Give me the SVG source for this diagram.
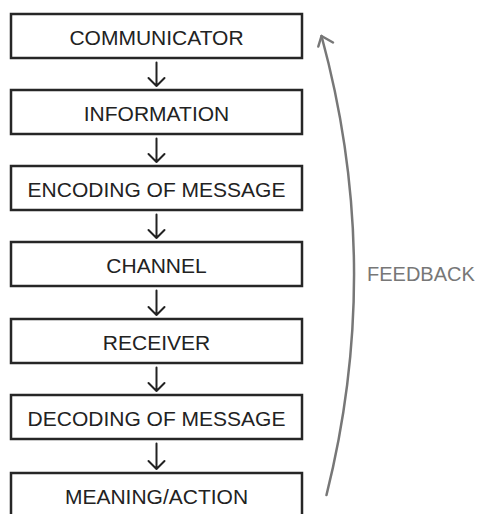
<svg xmlns="http://www.w3.org/2000/svg" width="478" height="514" viewBox="0 0 478 514">
  <style>
    .box { fill: #ffffff; stroke: #262626; stroke-width: 2.5; }
    .label { font-family: "Liberation Sans", Arial, sans-serif; font-size: 21px; fill: #222222; text-anchor: middle; }
    .flow { stroke: #222222; stroke-width: 2; fill: none; stroke-linecap: round; stroke-linejoin: round; }
    .feedback { stroke: #777777; stroke-width: 2.5; fill: none; stroke-linecap: round; stroke-linejoin: round; }
    .fb-label { font-family: "Liberation Sans", Arial, sans-serif; font-size: 20px; fill: #777777; }
  </style>
  <rect width="478" height="514" fill="#ffffff"/>

  <g id="communicator">
    <rect class="box" x="11" y="14" width="291" height="44"/>
    <text class="label" x="156.5" y="45">COMMUNICATOR</text>
  </g>
  <g id="information">
    <rect class="box" x="11" y="90" width="291" height="44"/>
    <text class="label" x="156.5" y="121">INFORMATION</text>
  </g>
  <g id="encoding">
    <rect class="box" x="11" y="166" width="291" height="44"/>
    <text class="label" x="156.5" y="197">ENCODING OF MESSAGE</text>
  </g>
  <g id="channel">
    <rect class="box" x="11" y="242" width="291" height="44"/>
    <text class="label" x="156.5" y="273">CHANNEL</text>
  </g>
  <g id="receiver">
    <rect class="box" x="11" y="319" width="291" height="44"/>
    <text class="label" x="156.5" y="350">RECEIVER</text>
  </g>
  <g id="decoding">
    <rect class="box" x="11" y="395" width="291" height="44"/>
    <text class="label" x="156.5" y="426">DECODING OF MESSAGE</text>
  </g>
  <g id="meaning">
    <rect class="box" x="11" y="473" width="291" height="50"/>
    <text class="label" x="156.5" y="503.5">MEANING/ACTION</text>
  </g>

  <g id="connectors">
    <path class="flow" d="M156.5 62.5 V86 M148.5 78 L156.5 86 L164.5 78"/>
    <path class="flow" d="M156.5 138.5 V162 M148.5 154 L156.5 162 L164.5 154"/>
    <path class="flow" d="M156.5 214.5 V238 M148.5 230 L156.5 238 L164.5 230"/>
    <path class="flow" d="M156.5 290.5 V315 M148.5 307 L156.5 315 L164.5 307"/>
    <path class="flow" d="M156.5 367.5 V391 M148.5 383 L156.5 391 L164.5 383"/>
    <path class="flow" d="M156.5 443.5 V469 M148.5 461 L156.5 469 L164.5 461"/>
    <path class="feedback" d="M326.5 495 Q384 265 321.5 36"/>
    <path class="feedback" d="M318.3 46.5 L321.5 36 L333 42.5"/>
  </g>

  <text class="fb-label" x="367" y="281">FEEDBACK</text>
</svg>
